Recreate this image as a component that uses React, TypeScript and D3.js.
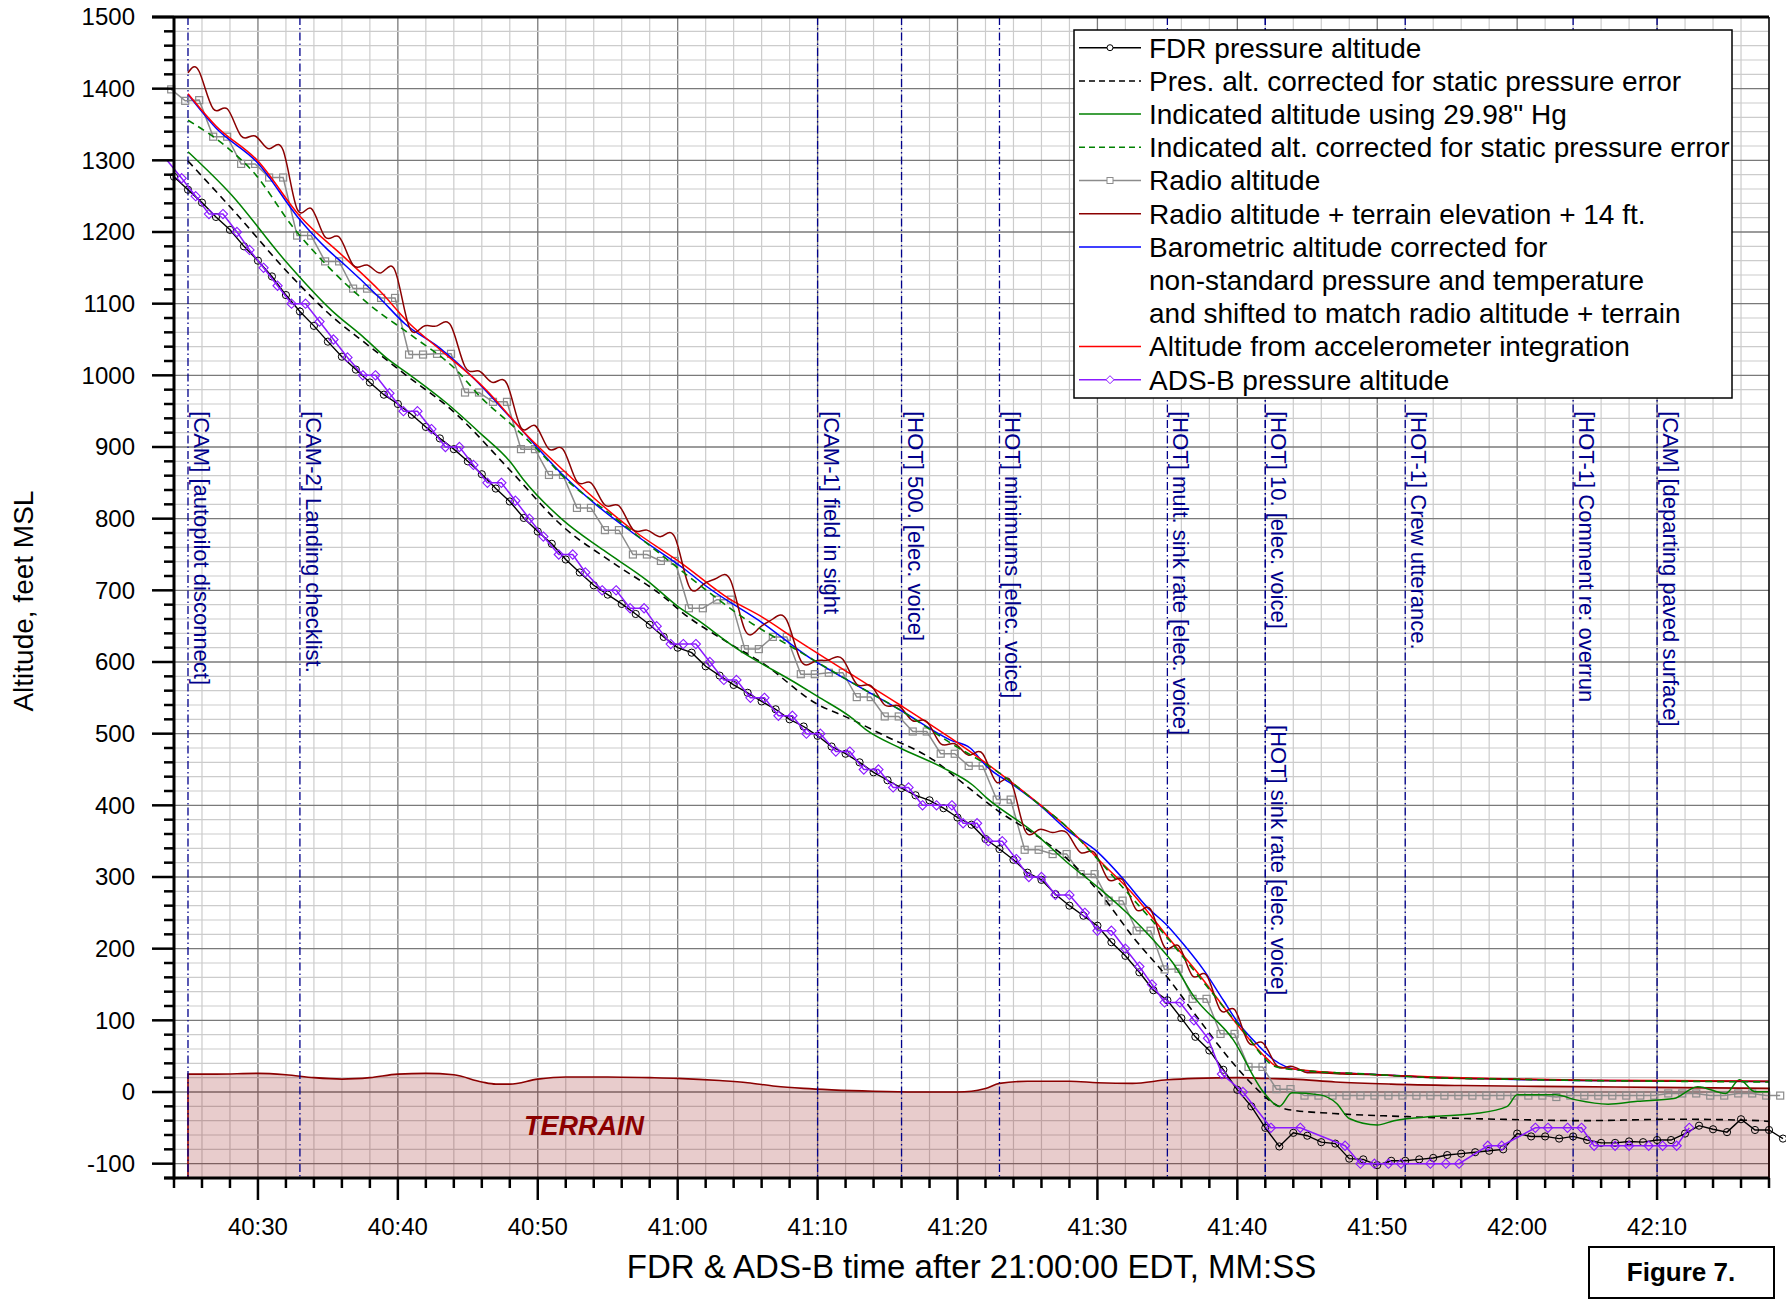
import React from "react";
import * as d3 from "d3";

type Pt = [number, number];

// time = seconds after 21:40:00 EDT, altitude = feet MSL
const fdrPressureAlt: Pt[] = [
  [24, 1277], [25, 1259], [26, 1241], [27, 1221], [28, 1203], [29, 1180], [30, 1160], [31, 1138],
  [32, 1112], [33, 1089], [34, 1069], [35, 1047], [36, 1026], [37, 1008], [38, 990], [39, 973],
  [40, 960], [41, 945], [42, 928], [43, 912], [44, 897], [45, 880], [46, 862], [47, 842],
  [48, 824], [49, 801], [50, 782], [51, 765], [52, 743], [53, 725], [54, 707], [55, 694],
  [56, 681], [57, 667], [58, 652], [59, 635], [60, 620], [61, 613], [62, 594], [63, 581],
  [64, 568], [65, 557], [66, 545], [67, 534], [68, 520], [69, 510], [70, 497], [71, 482],
  [72, 472], [73, 460], [74, 446], [75, 435], [76, 424], [77, 414], [78, 407], [79, 396],
  [80, 383], [81, 373], [82, 353], [83, 339], [84, 324], [85, 306], [86, 296], [87, 276],
  [88, 260], [89, 246], [90, 232], [91, 209], [92, 190], [93, 167], [94, 142], [95, 128],
  [96, 103], [97, 77], [98, 58], [99, 31], [100, 3], [101, -20], [102, -50], [103, -76],
  [104, -57], [105, -61], [106, -70], [107, -72], [108, -93], [109, -94], [110, -102], [111, -96],
  [112, -96], [113, -94], [114, -92], [115, -88], [116, -86], [117, -84], [118, -82], [119, -80],
  [120, -58], [121, -62], [122, -62], [123, -65], [124, -62], [125, -67], [126, -71], [127, -71],
  [128, -69], [129, -70], [130, -67], [131, -67], [132, -58], [133, -47], [134, -52], [135, -56],
  [136, -38], [137, -53], [138, -53], [139, -65],
];

const presAltCorrected: Pt[] = [
  [25, 1299], [28.2, 1231], [32.4, 1138], [35.3, 1082], [38, 1040], [40.4, 1003], [44, 949],
  [48, 868], [51.8, 789], [55.4, 738], [59, 691], [60.4, 668], [63.7, 626], [66.1, 598],
  [69.9, 542], [72.3, 521], [74.7, 498], [78.3, 463], [80.7, 426], [83, 391], [85.4, 361],
  [87.8, 326], [90.2, 277], [92.6, 215], [95, 160], [97.3, 100], [99.7, 40], [101.1, 10],
  [102.6, -16], [103.5, -24], [106.9, -30], [111.6, -34], [116.4, -37], [121.2, -39],
  [124.5, -40], [131.5, -38], [137.3, -40], [138, -41],
];

const indicatedAlt: Pt[] = [
  [25, 1312], [28.1, 1252], [31.9, 1161], [35.3, 1090], [37.5, 1054], [39.2, 1024], [40.9, 1000],
  [43.5, 961], [45.9, 919], [48, 880], [49, 854], [51.8, 798], [54.7, 756], [57.8, 714],
  [60.05, 677], [61.4, 659], [64.2, 619], [68.5, 570], [70, 552], [72.3, 524], [73.5, 505],
  [75.9, 480], [78.8, 454], [81.1, 428], [82.1, 410], [85.4, 363], [87.8, 321], [90.2, 283],
  [92.1, 250], [94, 212], [95.4, 180], [96.9, 133], [99.7, 73], [101.9, -1], [103, -20],
  [103.9, -1], [105.9, -4], [107.1, -16], [108, -37], [110, -46], [111.2, -40], [114.1, -34],
  [117, -30], [119.3, -20], [120, -4], [122.75, -4], [124.2, -11], [126.5, -17], [128.6, -13],
  [131.2, -9], [132.9, 7.5], [134.9, -2], [135.9, 17], [137, 0.5], [138, 0.5],
];

const indicatedAltCorrected: Pt[] = [
  [25, 1356], [27.8, 1318], [29.7, 1283], [32.5, 1207], [35.1, 1150], [38, 1098], [41.1, 1054],
  [44.2, 1007], [45.9, 970], [48.3, 928], [50.4, 888], [51.8, 859], [55.4, 803], [59, 747],
  [61.4, 710], [64.9, 659], [68.75, 614], [72.3, 573], [75.9, 533], [79.5, 487], [83, 445],
  [85.4, 408], [87.8, 370], [90.2, 321], [92.6, 268], [95, 215], [97.3, 160], [100.2, 91],
  [102.8, 35], [104.7, 30], [109.3, 25], [114, 20], [119, 18], [125, 16], [131, 15], [138, 14],
];

const radioAlt: Pt[] = [
  [23.8, 1399], [24.8, 1383], [25.8, 1384], [26.8, 1333], [27.8, 1333], [28.8, 1295], [29.8, 1295],
  [30.8, 1276], [31.8, 1276], [32.8, 1195], [33.8, 1195], [34.8, 1159], [35.8, 1159], [36.8, 1121],
  [37.8, 1121], [38.8, 1108], [39.8, 1108], [40.8, 1029], [41.8, 1029], [42.8, 1030], [43.8, 1030],
  [44.8, 976], [45.8, 976], [46.8, 963], [47.8, 963], [48.8, 897], [49.8, 897], [50.8, 861],
  [51.8, 861], [52.8, 815], [53.8, 815], [54.8, 784], [55.8, 784], [56.8, 750], [57.8, 750],
  [58.8, 741], [59.8, 741], [60.8, 675], [61.8, 675], [62.8, 687], [63.8, 687], [64.8, 618],
  [65.8, 618], [66.8, 635], [67.8, 635], [68.8, 583], [69.8, 583], [70.8, 585], [71.8, 585],
  [72.8, 551], [73.8, 551], [74.8, 524], [75.8, 524], [76.8, 503], [77.8, 503], [78.8, 472],
  [79.8, 472], [80.8, 455], [81.8, 455], [82.8, 408], [83.8, 408], [84.8, 338], [85.8, 338],
  [86.8, 332], [87.8, 332], [88.8, 304], [89.8, 304], [90.8, 267], [91.8, 267], [92.8, 225],
  [93.8, 225], [94.8, 171], [95.8, 172], [96.8, 130], [97.8, 130], [98.8, 81], [99.8, 81],
  [100.8, 35], [101.8, 35], [102.8, 4], [103.8, 4], [104.8, -5], [105.8, -5], [106.8, -5],
  [107.8, -5], [108.8, -5], [109.8, -5], [110.8, -5], [111.8, -5], [112.8, -5], [113.8, -5],
  [114.8, -5], [115.8, -5], [116.8, -5], [117.8, -5], [118.8, -5], [119.8, -5], [120.8, -5],
  [121.8, -5], [122.8, -7], [123.8, -5], [124.8, -5], [125.8, -5], [126.8, -5], [127.8, -5],
  [128.8, -5], [129.8, -5], [130.8, -2], [131.8, -2], [132.8, -2], [133.8, -5], [134.8, -5],
  [135.8, -2], [136.8, -2], [137.8, -5], [138.8, -5],
];

const radioPlusTerrain: Pt[] = [
  [25, 1422], [25.8, 1424], [26.8, 1372], [27.8, 1372], [28.8, 1334], [29.8, 1334], [30.8, 1316],
  [31.8, 1314], [32.8, 1232], [33.8, 1233], [34.8, 1193], [35.8, 1193], [36.8, 1154], [37.8, 1154],
  [38.8, 1143], [39.8, 1146], [40.8, 1068], [41.8, 1068], [42.8, 1069], [43.8, 1069], [44.8, 1012],
  [45.8, 1006], [46.8, 990], [47.8, 988], [48.8, 927], [49.8, 930], [50.8, 897], [51.8, 897],
  [52.8, 852], [53.8, 850], [54.8, 819], [55.8, 818], [56.8, 785], [57.8, 784], [58.8, 775],
  [59.8, 774], [60.8, 706], [61.8, 708], [62.8, 717], [63.8, 713], [64.8, 645], [65.8, 647],
  [66.8, 660], [67.8, 658], [68.8, 602], [69.8, 601], [70.8, 603], [71.8, 604], [72.8, 569],
  [73.8, 567], [74.8, 540], [75.8, 539], [76.8, 518], [77.8, 517], [78.8, 486], [79.8, 486],
  [80.8, 470], [81.8, 472], [82.8, 432], [83.8, 434], [84.8, 366], [85.8, 366], [86.8, 362],
  [87.8, 362], [88.8, 334], [89.8, 334], [90.8, 296], [91.8, 296], [92.8, 254], [93.8, 255],
  [94.8, 202], [95.8, 204], [96.8, 162], [97.8, 163], [98.8, 114], [99.8, 115], [100.8, 69],
  [101.8, 69], [102.8, 37], [103.8, 36], [104.8, 28], [105.8, 27], [107.5, 25], [110, 24],
  [114, 20], [119, 18], [125, 16], [132, 15], [138, 14.5],
];

const baroCorrected: Pt[] = [
  [25, 1392], [27, 1345], [30, 1296], [33, 1217], [35, 1175], [36.1, 1156], [38.7, 1108],
  [40.5, 1072], [43, 1038], [45.2, 1000], [48.1, 940], [51.8, 861], [54.2, 819], [56.8, 780],
  [60.6, 728], [62.1, 705], [66.1, 654], [69.5, 605], [72.3, 573], [75.9, 533], [79.5, 491],
  [80.9, 480], [82.1, 454], [84, 428], [85.9, 400], [87.8, 366], [90, 335], [91.9, 296],
  [93.5, 259], [95, 232], [96.2, 205], [97.6, 170], [99, 128], [100, 98], [101.5, 65],
  [102.6, 45], [103.5, 35], [104.7, 30], [109.3, 25], [114, 20.5], [118.8, 18], [124.5, 16],
  [131, 15.5], [138, 14.5],
];

const accelAlt: Pt[] = [
  [25, 1393], [27, 1348], [30, 1299], [33, 1222], [36.1, 1166], [38.7, 1118], [40.9, 1071],
  [43, 1036], [46.3, 980], [49, 921], [51.8, 868], [56.6, 787], [60.4, 736], [63.7, 688],
  [66.1, 662], [68.5, 631], [72.3, 584], [75.9, 540], [79.5, 494], [83, 445], [85.9, 401],
  [88.3, 361], [90.2, 322], [92.6, 275], [95, 217], [97.3, 163], [100.2, 89], [102.1, 47],
  [102.8, 36], [104.5, 31], [109, 25], [114, 21], [119, 18.5], [125, 16.5], [131, 16], [138, 15],
];

const adsbAlt: Pt[] = [
  [23.5, 1300], [24.55, 1275], [25.55, 1250], [26.5, 1225], [27.5, 1225], [28.5, 1200], [29.4, 1175],
  [30.4, 1150], [31.4, 1125], [32.4, 1100], [33.4, 1100], [34.4, 1075], [35.4, 1050], [36.4, 1025],
  [37.5, 1000], [38.4, 1000], [39.4, 975], [40.4, 950], [41.4, 950], [42.4, 925], [43.4, 900],
  [44.4, 900], [45.4, 875], [46.4, 850], [47.4, 850], [48.4, 825], [49.4, 800], [50.4, 775],
  [51.5, 750], [52.5, 750], [53.4, 725], [54.6, 700], [55.6, 700], [56.6, 675], [57.6, 675],
  [58.5, 650], [59.5, 625], [60.4, 625], [61.3, 625], [62.3, 600], [63.3, 575], [64.2, 575],
  [65.2, 550], [66.2, 550], [67.2, 525], [68.2, 525], [69.2, 500], [70.2, 500], [71.3, 475],
  [72.3, 475], [73.3, 450], [74.35, 450], [75.4, 425], [76.5, 425], [77.5, 400], [78.5, 400],
  [79.6, 400], [80.4, 375], [81.4, 375], [82.2, 350], [83.2, 350], [84.2, 325], [85.1, 300],
  [86, 300], [87, 275], [88, 275], [89.1, 250], [90, 225], [91, 225], [92, 200], [93, 175],
  [93.9, 150], [94.8, 125], [95.9, 125], [96.9, 100], [97.9, 75], [98.9, 25], [100.4, 0],
  [102.4, -50], [104.5, -50], [107.7, -75], [108.8, -100], [109.8, -100], [110.8, -100],
  [111.7, -100], [113.8, -100], [114.9, -100], [115.85, -100], [117.9, -75], [118.9, -75],
  [121.3, -50], [122.2, -50], [123.6, -50], [124.6, -50], [125.5, -75], [127, -75], [128, -75],
  [129.4, -75], [130.4, -75], [131.4, -75], [132.3, -50],
];

const terrainElev: Pt[] = [
  [25, 25], [27, 25], [30, 26], [32, 24], [34, 20], [36, 18], [38, 20], [40, 25], [42, 26],
  [44, 24], [46, 14], [47, 11], [48, 11], [50, 18], [52, 21], [55, 21], [58, 20], [60, 19],
  [63, 16], [65, 13], [67, 8], [69, 5], [71, 3], [74, 1], [77, 0], [80, 0], [81, 1], [82, 5],
  [83, 12], [85, 15], [88, 15], [90, 13], [92.5, 12], [95, 17], [97, 19], [100, 20], [102, 19],
  [104, 18], [107, 14], [111, 11], [116, 9], [124, 7.5], [130, 6.5], [138, 5],
];

const eventTimes = [25, 33, 70, 76, 83, 95, 102, 102, 112, 124, 130];
const eventLabels = [
  "[CAM] [autopilot disconnect]",
  "[CAM-2] Landing checklist.",
  "[CAM-1] field in sight",
  "[HOT] 500. [elec. voice]",
  "[HOT] minimums [elec. voice]",
  "[HOT] mult. sink rate [elec. voice]",
  "[HOT] 10. [elec. voice]",
  "[HOT] sink rate [elec. voice]",
  "[HOT-1] Crew utterance.",
  "[HOT-1] Comment re: overrun",
  "[CAM] [departing paved surface]",
];

const yTickValues = [-100, 0, 100, 200, 300, 400, 500, 600, 700, 800, 900, 1000, 1100, 1200, 1300, 1400, 1500];
const xTickValues = [30, 40, 50, 60, 70, 80, 90, 100, 110, 120, 130];

const legendLabels = [
  "FDR pressure altitude",
  "Pres. alt. corrected for static pressure error",
  "Indicated altitude using 29.98\" Hg",
  "Indicated alt. corrected for static pressure error",
  "Radio altitude",
  "Radio altitude + terrain elevation + 14 ft.",
  "Barometric altitude corrected for",
  "non-standard pressure and temperature",
  "and shifted to match radio altitude + terrain",
  "Altitude from accelerometer integration",
  "ADS-B pressure altitude",
];

const FONT = "'Liberation Sans', Arial, Helvetica, sans-serif";
const NAVY = "#00008b";
const PURPLE = "#8b1aff";
const DARKRED = "#8b0000";

const fmtTime = (s: number) => `${40 + Math.floor(s / 60)}:${String(s % 60).padStart(2, "0")}`;

export default function App() {
  const W = 1786, H = 1301;
  const left = 174, right = 1769, top = 17, bottom = 1178;

  const x = d3.scaleLinear().domain([24, 138]).range([left, right]);
  const y = d3.scaleLinear().domain([-120, 1500]).range([bottom, top]);

  const mk = (curve: d3.CurveFactory) =>
    d3.line<Pt>().x(d => x(d[0])).y(d => y(d[1])).curve(curve);
  const linear = mk(d3.curveLinear);
  const smooth = mk(d3.curveMonotoneX);
  const spline = mk(d3.curveNatural);

  const terrainArea = d3.area<Pt>()
    .x(d => x(d[0]))
    .y0(y(-120))
    .y1(d => y(d[1]))
    .curve(d3.curveMonotoneX);

  const minorX = d3.range(24, 139, 2);
  const minorY = d3.range(-120, 1501, 20);

  const shown = (p: Pt) => p[0] >= 23.7;

  const diamond = (cx: number, cy: number, r: number) =>
    `M${cx},${cy - r}L${cx + r},${cy}L${cx},${cy + r}L${cx - r},${cy}Z`;

  // legend layout
  const lgX = 1074, lgY = 30, lgW = 658, lgH = 368;
  const rowY = (i: number) => 47.7 + i * 33.2;
  const sx0 = 1079, sx1 = 1141, sxm = 1110;

  return (
    <svg width={W} height={H} style={{ position: "absolute", left: 0, top: 0, background: "#fff" }}
      fontFamily={FONT}>
      {/* grid */}
      <g>
        {minorX.map(t => (
          <line key={"vx" + t} x1={x(t)} x2={x(t)} y1={top} y2={bottom}
            stroke={t % 10 === 0 ? "#7a7a7a" : "#cccccc"} strokeWidth={t % 10 === 0 ? 1.3 : 1.2} />
        ))}
        {minorY.map(v => (
          <line key={"hy" + v} x1={left} x2={right} y1={y(v)} y2={y(v)}
            stroke={v % 100 === 0 ? "#7a7a7a" : "#cccccc"} strokeWidth={v % 100 === 0 ? 1.3 : 1.2} />
        ))}
      </g>

      {/* terrain */}
      <path d={terrainArea(terrainElev) ?? ""} fill={DARKRED} fillOpacity={0.2} stroke={DARKRED} strokeWidth={1.6} />
      <text x={x(53.3)} y={y(-60)} textAnchor="middle" fontSize={27} fontWeight="bold" fontStyle="italic"
        fill={DARKRED}>TERRAIN</text>

      {/* event markers */}
      {eventTimes.map((t, i) => (
        <line key={"ev" + i} x1={x(t)} x2={x(t)} y1={top} y2={bottom} stroke={NAVY} strokeWidth={1.3}
          strokeDasharray="8,3,1.5,3" />
      ))}
      {eventLabels.map((s, i) => {
        const v = s.startsWith("[HOT] sink rate") ? 512 : 950;
        return (
          <text key={"el" + i} transform={`translate(${x(eventTimes[i]) + 6},${y(v)}) rotate(90)`}
            fontSize={22} fill={NAVY}>{s}</text>
        );
      })}

      {/* series */}
      <path d={linear(radioAlt) ?? ""} fill="none" stroke="#8c8c8c" strokeWidth={1.5} />
      {radioAlt.filter(shown).map((p, i) => (
        <rect key={"ra" + i} x={x(p[0]) - 3.5} y={y(p[1]) - 3.5} width={7} height={7}
          fill="none" stroke="#8c8c8c" strokeWidth={1.2} />
      ))}
      <path d={smooth(presAltCorrected) ?? ""} fill="none" stroke="#000" strokeWidth={1.6} strokeDasharray="7,5" />
      <path d={smooth(indicatedAlt) ?? ""} fill="none" stroke="#008000" strokeWidth={1.5} />
      <path d={smooth(baroCorrected) ?? ""} fill="none" stroke="#0000ff" strokeWidth={1.5} />
      <path d={smooth(accelAlt) ?? ""} fill="none" stroke="#ff0000" strokeWidth={1.5} />
      <path d={spline(radioPlusTerrain) ?? ""} fill="none" stroke={DARKRED} strokeWidth={1.5} />
      <path d={smooth(indicatedAltCorrected) ?? ""} fill="none" stroke="#008000" strokeWidth={1.6} strokeDasharray="7,5" />
      <path d={linear(fdrPressureAlt) ?? ""} fill="none" stroke="#000" strokeWidth={1.4} />
      {fdrPressureAlt.filter(shown).map((p, i) => (
        <circle key={"fd" + i} cx={x(p[0])} cy={y(p[1])} r={3.6} fill="none" stroke="#000" strokeWidth={1} />
      ))}
      <path d={linear(adsbAlt) ?? ""} fill="none" stroke={PURPLE} strokeWidth={1.5} />
      {adsbAlt.filter(shown).map((p, i) => (
        <path key={"ad" + i} d={diamond(x(p[0]), y(p[1]), 4.6)} fill="none" stroke={PURPLE} strokeWidth={1.1} />
      ))}

      {/* frame and axes */}
      <line x1={right} x2={right} y1={top} y2={bottom} stroke="#000" strokeWidth={1.5} />
      <line x1={left - 22} x2={right} y1={top} y2={top} stroke="#000" strokeWidth={3} />
      <line x1={left} x2={left} y1={top} y2={bottom + 1.5} stroke="#000" strokeWidth={3} />
      <line x1={left - 10} x2={right} y1={bottom} y2={bottom} stroke="#000" strokeWidth={3} />
      {minorY.map(v => (
        <line key={"yt" + v} x1={left - (v % 100 === 0 ? 22 : 10)} x2={left} y1={y(v)} y2={y(v)}
          stroke="#000" strokeWidth={2.5} />
      ))}
      {minorX.map(t => (
        <line key={"xt" + t} x1={x(t)} x2={x(t)} y1={bottom} y2={bottom + (t % 10 === 0 ? 22 : 10)}
          stroke="#000" strokeWidth={2.5} />
      ))}
      {yTickValues.map(v => (
        <text key={"yl" + v} x={135} y={y(v)} dy="0.35em" textAnchor="end" fontSize={24} fill="#000">{v}</text>
      ))}
      {xTickValues.map(t => (
        <text key={"xl" + t} x={x(t)} y={1235} textAnchor="middle" fontSize={24} fill="#000">{fmtTime(t)}</text>
      ))}
      <text x={(left + right) / 2} y={1278} textAnchor="middle" fontSize={33} fill="#000">
        FDR &amp; ADS-B time after 21:00:00 EDT, MM:SS
      </text>
      <text transform={`translate(33,${y(685)}) rotate(-90)`} textAnchor="middle" fontSize={28} fill="#000">
        Altitude, feet MSL
      </text>

      {/* legend */}
      <g>
        <rect x={lgX} y={lgY} width={lgW} height={lgH} fill="#fff" stroke="#000" strokeWidth={1.5} />
        <line x1={sx0} x2={sx1} y1={rowY(0)} y2={rowY(0)} stroke="#000" strokeWidth={1.4} />
        <circle cx={sxm} cy={rowY(0)} r={3} fill="#fff" stroke="#000" strokeWidth={1} />
        <line x1={sx0} x2={sx1} y1={rowY(1)} y2={rowY(1)} stroke="#000" strokeWidth={1.5} strokeDasharray="6,4" />
        <line x1={sx0} x2={sx1} y1={rowY(2)} y2={rowY(2)} stroke="#008000" strokeWidth={1.5} />
        <line x1={sx0} x2={sx1} y1={rowY(3)} y2={rowY(3)} stroke="#008000" strokeWidth={1.5} strokeDasharray="6,4" />
        <line x1={sx0} x2={sx1} y1={rowY(4)} y2={rowY(4)} stroke="#8c8c8c" strokeWidth={1.5} />
        <rect x={sxm - 3} y={rowY(4) - 3} width={6} height={6} fill="#fff" stroke="#8c8c8c" strokeWidth={1} />
        <line x1={sx0} x2={sx1} y1={rowY(5)} y2={rowY(5)} stroke={DARKRED} strokeWidth={1.5} />
        <line x1={sx0} x2={sx1} y1={rowY(6)} y2={rowY(6)} stroke="#0000ff" strokeWidth={1.5} />
        <line x1={sx0} x2={sx1} y1={rowY(9)} y2={rowY(9)} stroke="#ff0000" strokeWidth={1.5} />
        <line x1={sx0} x2={sx1} y1={rowY(10)} y2={rowY(10)} stroke={PURPLE} strokeWidth={1.5} />
        <path d={diamond(sxm, rowY(10), 4)} fill="#fff" stroke={PURPLE} strokeWidth={1} />
        {legendLabels.map((s, i) => (
          <text key={"lg" + i} x={1149} y={rowY(i)} dy="0.35em" fontSize={28} fill="#000">{s}</text>
        ))}
      </g>

      {/* figure label */}
      <rect x={1589} y={1247} width={185} height={51} fill="#fff" stroke="#000" strokeWidth={2} />
      <text x={1681} y={1281} textAnchor="middle" fontSize={26} fontWeight="bold" fill="#000">Figure 7.</text>
    </svg>
  );
}
